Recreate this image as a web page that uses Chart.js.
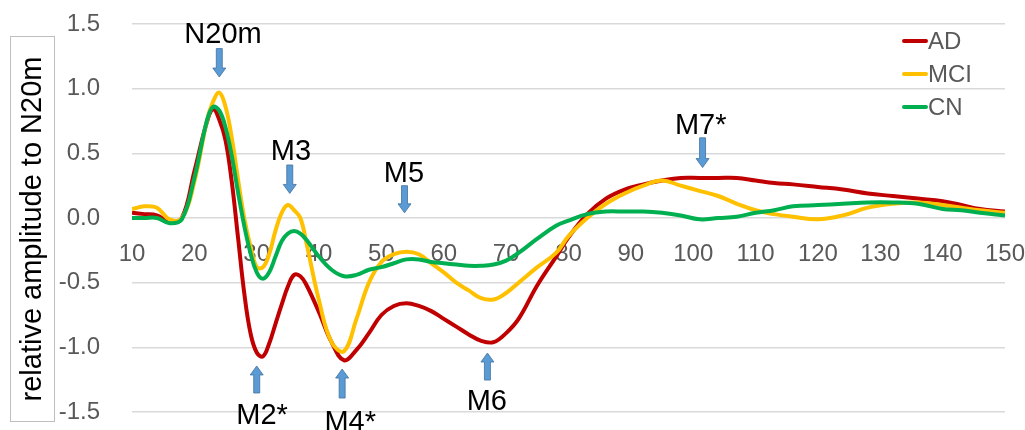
<!DOCTYPE html>
<html>
<head>
<meta charset="utf-8">
<script src="https://cdn.jsdelivr.net/npm/chart.js@4"></script>
<style>
  html, body { margin: 0; padding: 0; background: #fff; }
  #wrap { width: 1025px; height: 430px; }
</style>
</head>
<body>
<div id="wrap"><canvas id="erpChart" width="1025" height="430"></canvas></div>
<script>
// latency (ms) sample points shared by the three curves
const times = [10,12,14,16,18,20,22,23,24,25,26,27,28,29,30,31,32,33,34,35,36,37,38,40,42,44,46,48,50,52,54,56,58,60,62,64,66,68,70,72,75,78,80,83,86,89,92,95,98,101,104,107,110,113,116,120,124,128,132,136,140,143,146,150];

const ad  = [0.04,0.03,0.02,-0.03,0.00,0.36,0.74,0.84,0.76,0.60,0.28,-0.15,-0.58,-0.89,-1.04,-1.07,-0.97,-0.82,-0.67,-0.53,-0.44,-0.45,-0.52,-0.73,-0.96,-1.10,-1.02,-0.89,-0.75,-0.68,-0.66,-0.68,-0.72,-0.78,-0.84,-0.90,-0.95,-0.96,-0.89,-0.78,-0.52,-0.30,-0.15,0.03,0.15,0.22,0.26,0.29,0.31,0.31,0.31,0.31,0.29,0.27,0.26,0.24,0.22,0.19,0.17,0.15,0.13,0.10,0.07,0.05];
const mci = [0.07,0.09,0.08,-0.01,0.00,0.28,0.75,0.90,0.97,0.86,0.62,0.30,0.00,-0.22,-0.38,-0.38,-0.28,-0.10,0.04,0.10,0.06,0.00,-0.20,-0.64,-0.96,-1.03,-0.78,-0.50,-0.34,-0.28,-0.26,-0.28,-0.35,-0.42,-0.50,-0.56,-0.62,-0.63,-0.58,-0.50,-0.38,-0.27,-0.14,0.00,0.11,0.19,0.25,0.29,0.25,0.21,0.17,0.11,0.06,0.03,0.01,-0.01,0.02,0.08,0.11,0.12,0.10,0.08,0.06,0.04];
const cn  = [0.00,0.00,0.00,-0.04,-0.01,0.31,0.75,0.86,0.83,0.70,0.48,0.20,-0.06,-0.27,-0.42,-0.47,-0.42,-0.30,-0.18,-0.12,-0.10,-0.12,-0.17,-0.30,-0.40,-0.45,-0.44,-0.40,-0.38,-0.35,-0.32,-0.32,-0.34,-0.35,-0.36,-0.37,-0.37,-0.36,-0.33,-0.27,-0.16,-0.06,-0.02,0.03,0.05,0.05,0.05,0.04,0.02,-0.01,0.00,0.01,0.04,0.06,0.09,0.10,0.11,0.12,0.12,0.11,0.07,0.06,0.04,0.02];

const seriesNames = ['AD', 'MCI', 'CN'];
const seriesColors = ['#C00000', '#FFC000', '#00B050'];
const yTicks = [-1.5, -1.0, -0.5, 0.0, 0.5, 1.0, 1.5];

// component markers
const peakNames = ['N20m', 'M3', 'M5', 'M7*', 'M2*', 'M4*', 'M6'];

// where each marker sits (data units): arrow x, arrow tail y, arrow tip y, text x, text baseline y
const peakLayout = [
    [24.0, 1.31, 1.09, 24.6, 1.353],
    [35.3, 0.41, 0.19, 35.5, 0.448],
    [53.7, 0.25, 0.04, 53.6, 0.278],
    [101.5, 0.62, 0.39, 101.2, 0.65],
    [30.0, -1.353, -1.144, 30.85, -1.593],
    [43.7, -1.392, -1.168, 45.0, -1.647],
    [67.0, -1.253, -1.044, 66.9, -1.485]
];

const FONT = '"Liberation Sans", Arial, sans-serif';

function toPoints(vals) {
    return vals.map((v, i) => ({ x: times[i], y: v }));
}

const datasets = [ad, mci, cn].map((vals, i) => ({
    label: seriesNames[i],
    data: toPoints(vals),
    borderColor: seriesColors[i],
    backgroundColor: seriesColors[i],
    borderWidth: 4,
    pointRadius: 0,
    fill: false,
    tension: 0.4,
    order: 3 - i
}));

function drawArrow(ctx, x, yTail, yTip) {
    const dir = yTip > yTail ? 1 : -1;
    const headLen = 9;
    const shaftW = 3;
    const headW = 6.5;
    const yNeck = yTip - dir * headLen;
    ctx.beginPath();
    ctx.moveTo(x - shaftW, yTail);
    ctx.lineTo(x + shaftW, yTail);
    ctx.lineTo(x + shaftW, yNeck);
    ctx.lineTo(x + headW, yNeck);
    ctx.lineTo(x, yTip);
    ctx.lineTo(x - headW, yNeck);
    ctx.lineTo(x - shaftW, yNeck);
    ctx.closePath();
    ctx.fillStyle = '#5B9BD5';
    ctx.fill();
    ctx.strokeStyle = '#41719C';
    ctx.lineWidth = 0.8;
    ctx.stroke();
}

const extrasPlugin = {
    id: 'extras',
    afterDraw(chart) {
        const ctx = chart.ctx;
        const xs = chart.scales.x;
        const ys = chart.scales.y;
        ctx.save();

        // y axis title in a box
        ctx.strokeStyle = '#BFBFBF';
        ctx.lineWidth = 1;
        ctx.strokeRect(10.5, 36.5, 44, 385);
        ctx.save();
        ctx.translate(33, 229);
        ctx.rotate(-Math.PI / 2);
        ctx.fillStyle = '#000';
        ctx.font = '29px ' + FONT;
        ctx.textAlign = 'center';
        ctx.textBaseline = 'middle';
        ctx.fillText('relative amplitude to N20m', 0, 0);
        ctx.restore();

        // markers
        ctx.font = '29px ' + FONT;
        ctx.textAlign = 'center';
        ctx.textBaseline = 'alphabetic';
        peakNames.forEach((name, i) => {
            const p = peakLayout[i];
            const ax = xs.getPixelForValue(p[0]);
            drawArrow(ctx, ax, ys.getPixelForValue(p[1]), ys.getPixelForValue(p[2]));
            ctx.fillStyle = '#000';
            ctx.fillText(name, xs.getPixelForValue(p[3]), ys.getPixelForValue(p[4]));
        });

        // legend
        ctx.font = '24px ' + FONT;
        ctx.textAlign = 'left';
        ctx.textBaseline = 'middle';
        chart.data.datasets.forEach((ds, i) => {
            const y = 41 + i * 33;
            ctx.strokeStyle = ds.borderColor;
            ctx.lineWidth = 4;
            ctx.lineCap = 'round';
            ctx.beginPath();
            ctx.moveTo(904, y);
            ctx.lineTo(926, y);
            ctx.stroke();
            ctx.fillStyle = '#595959';
            ctx.fillText(ds.label, 928, y + 1);
        });
        ctx.restore();
    }
};

new Chart(document.getElementById('erpChart'), {
    type: 'line',
    data: { datasets: datasets },
    options: {
        responsive: false,
        animation: false,
        layout: { padding: { left: 0, right: 20, top: 24, bottom: 18 } },
        plugins: {
            legend: { display: false },
            tooltip: { enabled: false }
        },
        scales: {
            x: {
                type: 'linear',
                min: 10,
                max: 150,
                position: { y: 0 },
                afterFit(scale) {
                    scale.height = 0;
                    scale.paddingLeft = 0;
                    scale.paddingRight = 0;
                },
                grid: { display: false, drawTicks: false },
                border: { display: false },
                ticks: {
                    stepSize: 10,
                    padding: 22,
                    color: '#595959',
                    font: { family: FONT, size: 24 },
                    maxRotation: 0
                }
            },
            y: {
                min: -1.5,
                max: 1.5,
                afterFit(scale) {
                    scale.width = 132;
                    scale.paddingTop = 0;
                    scale.paddingBottom = 0;
                },
                afterBuildTicks(scale) { scale.ticks = yTicks.map(v => ({ value: v })); },
                grid: { color: '#D9D9D9', lineWidth: 1.5, drawTicks: false },
                border: { display: false },
                ticks: {
                    padding: 32,
                    color: '#595959',
                    font: { family: FONT, size: 24 },
                    callback: v => v.toFixed(1)
                }
            }
        }
    },
    plugins: [extrasPlugin]
});
</script>
</body>
</html>
